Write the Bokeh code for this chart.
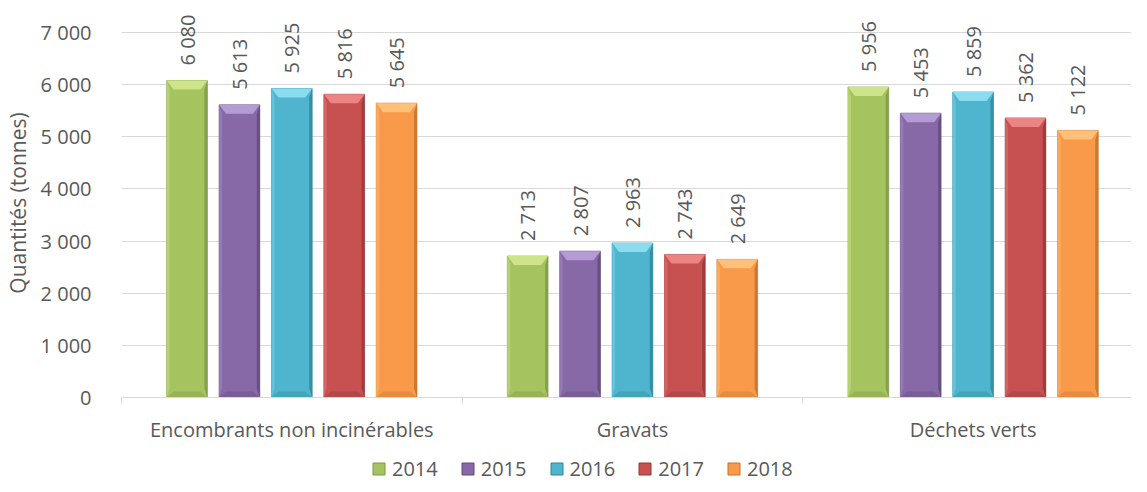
import math
from bokeh.plotting import figure
from bokeh.layouts import column
from bokeh.models import FixedTicker, Legend, LegendItem, Range1d, ColumnDataSource
from bokeh.core.properties import value
from bokeh.embed import file_html
from bokeh.resources import INLINE

# ---------------- data ----------------
categories = ["Encombrants non incinérables", "Gravats", "Déchets verts"]
years = ["2014", "2015", "2016", "2017", "2018"]
v2014 = [6080, 2713, 5956]
v2015 = [5613, 2807, 5453]
v2016 = [5925, 2963, 5859]
v2017 = [5816, 2743, 5362]
v2018 = [5645, 2649, 5122]
series = [v2014, v2015, v2016, v2017, v2018]
y_ticks = [0, 1000, 2000, 3000, 4000, 5000, 6000, 7000]

# ---------------- style ----------------
base_colors = ["#A5C35F", "#8669A6", "#4FB5CF", "#C65150", "#F99A4A"]
cap_colors = ["#CDE488", "#B49BD3", "#8ADCEE", "#EC8484", "#FFC07A"]
dark_colors = ["#7E9846", "#5E4A7A", "#2F8599", "#933838", "#C2712C"]
light_colors = ["#B5D172", "#9479B5", "#62C3DB", "#D46362", "#FCAA60"]
FONT = "Open Sans"
FS = "20px"
TXT = "#595959"
GRID = "#D9D9D9"

W, H1, H2 = 1131, 446, 36
BL, BT, BB = 114, 8, 49
frame_w = W - BL
frame_h = H1 - BT - BB
px_per_cat = 343.0
x_end = frame_w / px_per_cat
y_end = 7000 * frame_h / 365.0
ux = 1.0 / px_per_cat          # data units per px (x)
uy = y_end / frame_h           # data units per px (y)

pitch = 52.75 * ux
bw = 41 * ux

p = figure(width=W, height=H1, output_backend="svg", toolbar_location=None,
           x_range=Range1d(0, x_end), y_range=Range1d(0, y_end),
           min_border_left=BL, min_border_right=0, min_border_top=BT,
           min_border_bottom=BB)
p.outline_line_color = None
p.background_fill_color = "white"
p.border_fill_color = "white"

for j, vals in enumerate(series):
    xs = [i + 0.5 + (j - 2) * pitch for i in range(len(categories))]
    src = ColumnDataSource(dict(x=xs, top=vals,
                                lab=[f"{v:,}".replace(",", " ") for v in vals]))
    p.vbar(x="x", top="top", bottom=0, width=bw, source=src,
           fill_color=base_colors[j], line_color=dark_colors[j], line_width=1,
           line_alpha=0.6)
    # bevel: left light strip, right dark strip, bottom, top cap
    d_cap, h_cap, d_side = 7 * ux, 9 * uy, 3 * ux
    lx, ly, rx, ry, bx, by, tx, ty = [], [], [], [], [], [], [], []
    for x, v in zip(xs, vals):
        l, rr = x - bw / 2, x + bw / 2
        lx.append([l, l + d_side, l + d_side, l]); ly.append([v, v - h_cap, h_cap, 0])
        rx.append([rr, rr - d_side, rr - d_side, rr]); ry.append([v, v - h_cap, h_cap, 0])
        bx.append([l, rr, rr - d_cap, l + d_cap]); by.append([0, 0, 6 * uy, 6 * uy])
        tx.append([l, rr, rr - d_cap, l + d_cap]); ty.append([v, v, v - h_cap, v - h_cap])
    p.patches(lx, ly, fill_color=light_colors[j], line_color=None)
    p.patches(rx, ry, fill_color=dark_colors[j], line_color=None, fill_alpha=0.8)
    p.patches(bx, by, fill_color=dark_colors[j], line_color=None, fill_alpha=0.35)
    p.patches(tx, ty, fill_color=cap_colors[j], line_color=None)
    p.text(x="x", y="top", text="lab", source=src, angle=math.pi / 2,
           text_align="left", text_baseline="middle", y_offset=-15,
           text_font=value(FONT), text_font_size=FS, text_color=TXT)

# ---------------- axes ----------------
xa = p.xaxis[0]
xa.ticker = FixedTicker(ticks=[i + 0.5 for i in range(len(categories))],
                        minor_ticks=list(range(len(categories) + 1)))
xa.major_label_overrides = {i + 0.5: c for i, c in enumerate(categories)}
xa.major_tick_line_color = None
xa.minor_tick_line_color = GRID
xa.minor_tick_out = 6
xa.minor_tick_in = 0
xa.axis_line_color = GRID
xa.major_label_standoff = 12
xa.major_label_text_font = FONT
xa.major_label_text_font_size = FS
xa.major_label_text_color = TXT

ya = p.yaxis[0]
ya.ticker = FixedTicker(ticks=y_ticks)
ya.major_label_overrides = {t: f"{t:,}".replace(",", " ") for t in y_ticks}
ya.axis_line_color = None
ya.major_tick_line_color = None
ya.minor_tick_line_color = None
ya.major_label_standoff = 24
ya.major_label_text_font = FONT
ya.major_label_text_font_size = FS
ya.major_label_text_color = TXT
ya.axis_label = "Quantités (tonnes)"
ya.axis_label_text_font = FONT
ya.axis_label_text_font_size = "21px"
ya.axis_label_text_font_style = "normal"
ya.axis_label_text_color = TXT
ya.axis_label_standoff = 6

p.xgrid.grid_line_color = None
p.ygrid.grid_line_color = GRID
p.ygrid.grid_line_width = 1

# ---------------- legend (separate strip below) ----------------
lg = figure(width=W, height=H2, output_backend="svg", toolbar_location=None,
            x_range=Range1d(0, 1), y_range=Range1d(0, 1),
            min_border_left=BL, min_border_right=0, min_border_top=0,
            min_border_bottom=0, x_axis_type=None, y_axis_type=None)
lg.outline_line_color = None
lg.grid.visible = False
items = []
for j, y in enumerate(years):
    # single off-range bar: only the legend swatch is visible
    r = lg.vbar(x=[-5], top=[-5], width=0.1, fill_color=base_colors[j],
                line_color=dark_colors[j])
    items.append(LegendItem(label=y, renderers=[r]))
legend = Legend(items=items, orientation="horizontal", location=(250, 0),
                glyph_width=15, glyph_height=15, label_standoff=6, spacing=22,
                padding=0, margin=0, border_line_color=None,
                background_fill_alpha=0,
                label_text_font=FONT, label_text_font_size=FS,
                label_text_color=TXT, label_height=20)
lg.add_layout(legend, "center")

layout = column(p, lg, spacing=0)
open("out.html", "w").write(file_html(layout, INLINE))
